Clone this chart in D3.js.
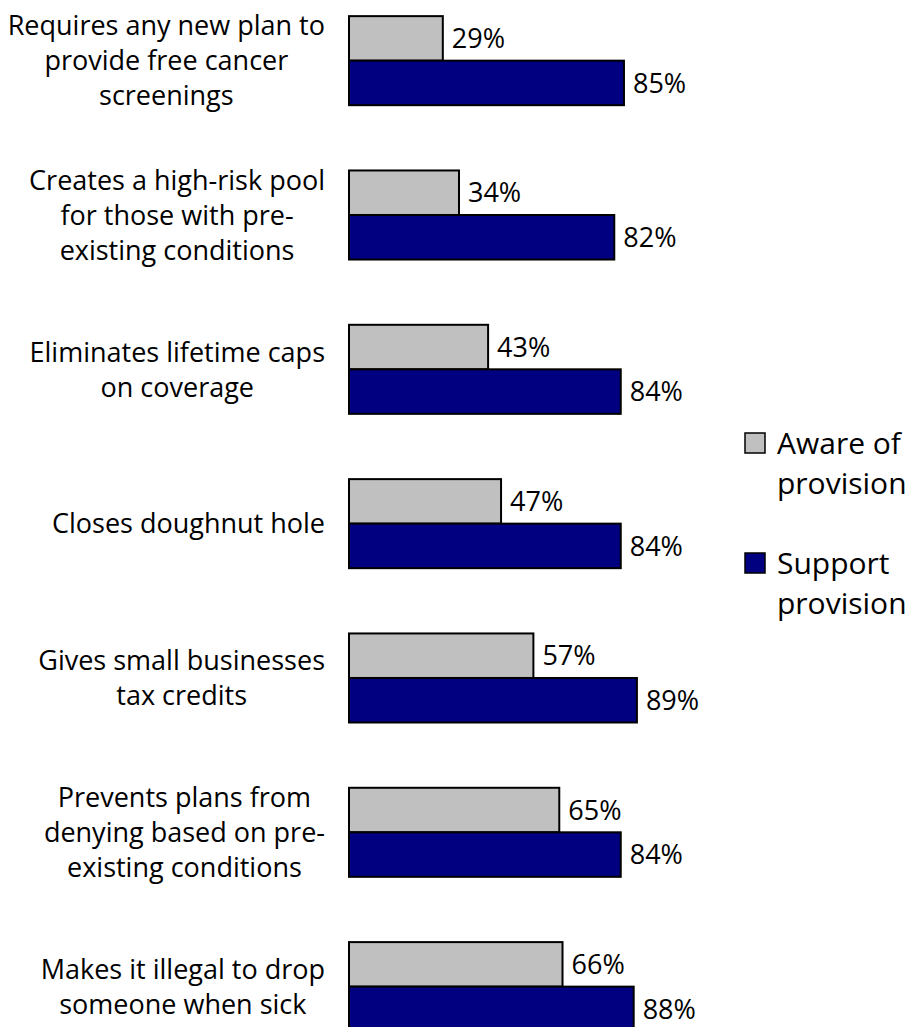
<!DOCTYPE html>
<html>
<head>
<meta charset="utf-8">
<script src="https://cdn.jsdelivr.net/npm/d3@7"></script>
<style>
  html, body { margin: 0; padding: 0; background: #fff; }
  svg text { font-family: "Open Sans", "Noto Sans", sans-serif; fill: #000; }
</style>
</head>
<body>
<svg id="chart" width="910" height="1027"></svg>
<script>
// Provision labels, one entry per line
const categories = [
  ["Requires any new plan to", "provide free cancer", "screenings"],
  ["Creates a high-risk pool", "for those with pre-", "existing conditions"],
  ["Eliminates lifetime caps", "on coverage"],
  ["Closes doughnut hole"],
  ["Gives small businesses", "tax credits"],
  ["Prevents plans from", "denying based on pre-", "existing conditions"],
  ["Makes it illegal to drop", "someone when sick"]
];
const seriesNames = ["Aware of provision", "Support provision"];
const legendLines = [["Aware of", "provision"], ["Support", "provision"]];
const aware = [29, 34, 43, 47, 57, 65, 66];
const support = [85, 82, 84, 84, 89, 84, 88];
const colors = ["#C0C0C0", "#000080"];

const svg = d3.select("#chart");
const fontSize = 27;
const lineH = 35;

const keys = categories.map((c, i) => "c" + i);
const rows = keys.map((k, i) => ({ key: k, lines: categories[i], values: [aware[i], support[i]] }));

const x = d3.scaleLinear().domain([0, 100]).range([349, 672.5]);
const y = d3.scaleBand().domain(keys).range([-16.5, 1063.8]).paddingInner(0.423).paddingOuter(0.2115);
const ySub = d3.scaleBand().domain(seriesNames).range([0, y.bandwidth()]).padding(0);

const groups = svg.selectAll("g.group").data(rows).join("g")
  .attr("class", "group")
  .attr("transform", d => `translate(0,${y(d.key)})`);

// Bars
groups.selectAll("rect").data(d => d.values.map((v, j) => ({ v, s: seriesNames[j], j })))
  .join("rect")
  .attr("x", x(0))
  .attr("y", d => ySub(d.s))
  .attr("width", d => x(d.v) - x(0))
  .attr("height", ySub.bandwidth())
  .attr("fill", d => colors[d.j])
  .attr("stroke", "#000")
  .attr("stroke-width", 2);

// Value labels
groups.selectAll("text.val").data(d => d.values.map((v, j) => ({ v, s: seriesNames[j] })))
  .join("text")
  .attr("class", "val")
  .attr("x", d => x(d.v) + 9)
  .attr("y", d => ySub(d.s) + ySub.bandwidth() / 2)
  .attr("dy", "0.36em")
  .attr("font-size", fontSize)
  .text(d => d.v + "%");

// Category labels: block right-aligned to the axis, lines centred within the block
const labelRight = 325;
groups.each(function (d) {
  const g = d3.select(this).append("g").attr("class", "cat");
  const n = d.lines.length;
  const cy = y.bandwidth() / 2;
  const texts = g.selectAll("text").data(d.lines).join("text")
    .attr("font-size", fontSize)
    .attr("text-anchor", "middle")
    .attr("y", (t, i) => cy + (i - (n - 1) / 2) * lineH)
    .attr("dy", "0.36em")
    .text(t => t);
  let maxW = 0;
  texts.each(function () { maxW = Math.max(maxW, this.getComputedTextLength()); });
  texts.attr("x", labelRight - maxW / 2);
});

// Legend
const legend = svg.append("g").attr("class", "legend");
const legendTop = [433, 553];
seriesNames.forEach((s, j) => {
  const lg = legend.append("g").attr("transform", `translate(745,${legendTop[j]})`);
  lg.append("rect").attr("width", 20).attr("height", 20)
    .attr("fill", colors[j]).attr("stroke", "#000").attr("stroke-width", 1.5);
  lg.selectAll("text").data(legendLines[j]).join("text")
    .attr("x", 32)
    .attr("y", (t, i) => 10 + i * 40)
    .attr("dy", "0.36em")
    .attr("font-size", 30)
    .text(t => t);
});
</script>
</body>
</html>
